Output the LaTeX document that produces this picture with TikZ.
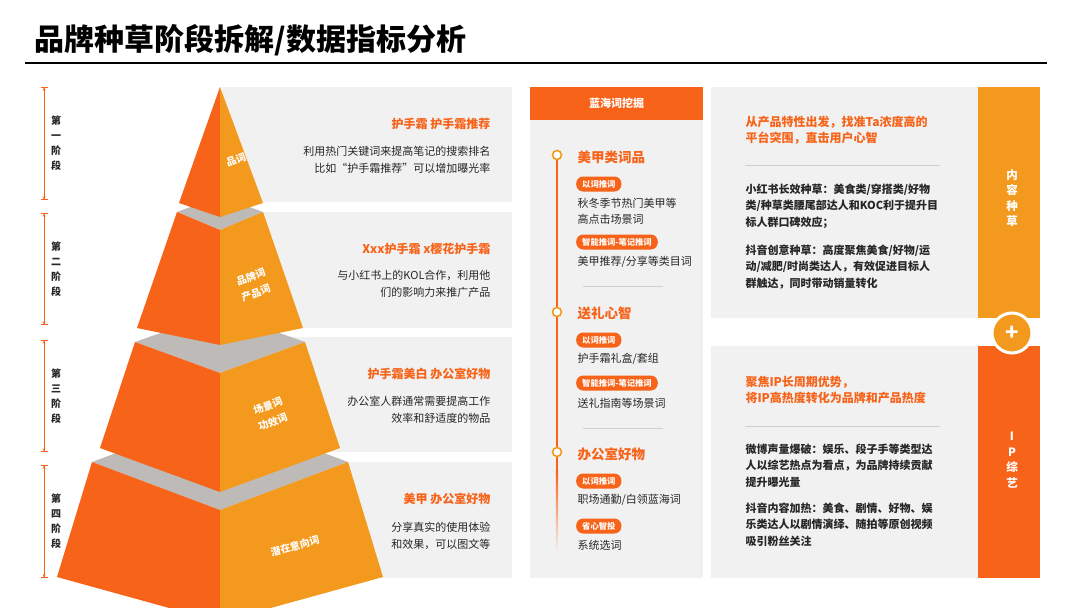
\documentclass[tikz,border=0pt]{standalone}
\usepackage{fontspec}
\setmainfont{Noto Sans CJK SC}
\usetikzlibrary{positioning,arrows.meta}
\definecolor{dorange}{HTML}{F76319}
\definecolor{lorange}{HTML}{F39A1E}
\definecolor{panel}{HTML}{F1F1F1}
\definecolor{band}{HTML}{BDBAB7}
\definecolor{ink}{HTML}{262626}

\begin{document}
\begin{tikzpicture}[x=1pt, y=-1pt,
  panelbox/.style={fill=panel, draw=none},
  ptitle/.style={text=dorange, font=\bfseries\fontsize{12}{14}\selectfont, anchor=east, align=right},
  pbody/.style={text=ink, font=\fontsize{11}{16.5}\selectfont, anchor=east, align=right},
  stage/.style={text=ink, font=\bfseries\fontsize{10}{15}\selectfont, align=center},
  facelab/.style={text=white, font=\bfseries\fontsize{10}{12}\selectfont, inner sep=0pt},
  mtitle/.style={text=dorange, font=\bfseries\fontsize{13.5}{15}\selectfont, anchor=west},
  badge/.style={fill=dorange, text=white, rounded corners=7pt, inner xsep=6pt, minimum height=15pt, inner ysep=0pt, font=\bfseries\fontsize{8.3}{9}\selectfont, anchor=west},
  mbody/.style={text=ink, font=\fontsize{11}{16}\selectfont, anchor=west, align=left},
  rtitle/.style={text=dorange, font=\bfseries\fontsize{12}{15.5}\selectfont, anchor=north west, align=left},
  rbody/.style={text=ink, font=\bfseries\fontsize{11}{16.8}\selectfont, anchor=north west, align=left},
  vlab/.style={text=white, font=\bfseries\fontsize{11.5}{15.5}\selectfont, align=center},
  dot/.style={circle, draw=lorange, line width=1.6pt, fill=white, inner sep=0pt, minimum size=9pt},
  brk/.style={dorange, line width=0.8pt, {Bar[width=7pt]Stealth[length=3pt,width=3pt]}-{Stealth[length=3pt,width=3pt]Bar[width=7pt]}}]
  \useasboundingbox (0,0) rectangle (1080,608);
  \fill[white] (0,0) rectangle (1080,608);

  % title
  \node (title) [anchor=west, font=\bfseries\fontsize{30}{32}\selectfont] at (31,40) {品牌种草阶段拆解/数据指标分析};
  \coordinate (ruleL) at (25,63);
  \coordinate (ruleR) at (1047,63);
  \draw[line width=1.6pt] (ruleL) -- (ruleR);

  % stage brackets
  \foreach \t/\b/\n [count=\i] in {87/200/一, 213/325/二, 340/452/三, 465/578/四} {
    \coordinate (s\i t) at (44,\t);
    \coordinate (s\i b) at (44,\b);
    \draw[brk] (s\i t) -- (s\i b);
    \node (stage\i) [stage] at (56,{(\t+\b)/2}) {第\\\n\\阶\\段};
  }

  % left panels
  \fill[panelbox] (222,87) rectangle (512,202);
  \fill[panelbox] (222,212) rectangle (512,328);
  \fill[panelbox] (222,337) rectangle (512,452);
  \fill[panelbox] (222,462) rectangle (512,578);

  % pyramid (bottom layer first)
  \foreach \th/\ts/\tf/\tb/\bh/\bs/\bc in {128/462/510/414/163/577/622, 85/342/373/312/120/448/492, 43/212/230/196/83/328/345} {
    \fill[band] (220-\th,\ts) -- (220,\tb) -- (220+\th,\ts) -- (220,\tf) -- cycle;
    \fill[dorange] (220-\th,\ts) -- (220,\tf) -- (220,\bc) -- (220-\bh,\bs) -- cycle;
    \fill[lorange] (220+\th,\ts) -- (220,\tf) -- (220,\bc) -- (220+\bh,\bs) -- cycle;
  }
  \fill[dorange] (220,87) -- (220,217) -- (179,203) -- cycle;
  \fill[lorange] (220,87) -- (220,217) -- (263,203) -- cycle;

  \node (lab1) [facelab, rotate=20] at (236,160) {品词};
  \node (lab2a) [facelab, rotate=20] at (251,277) {品牌词};
  \node (lab2b) [facelab, rotate=20] at (256,293) {产品词};
  \node (lab3a) [facelab, rotate=20] at (268,406) {场景词};
  \node (lab3b) [facelab, rotate=20] at (273,422) {功效词};
  \node (lab4) [facelab, rotate=15] at (295,546) {潜在意向词};

  % panel texts
  \node (t1) [ptitle] at (494,124) {护手霜 护手霜推荐};
  \node (b1) [pbody] at (494,160) {利用热门关键词来提高笔记的搜索排名\\比如“护手霜推荐”可以增加曝光率};
  \node (t2) [ptitle] at (494,249) {Xxx护手霜 x樱花护手霜};
  \node (b2) [pbody] at (494,284) {与小红书上的KOL合作，利用他\\们的影响力来推广产品};
  \node (t3) [ptitle] at (494,374) {护手霜美白 办公室好物};
  \node (b3) [pbody] at (494,410) {办公室人群通常需要提高工作\\效率和舒适度的物品};
  \node (t4) [ptitle] at (494,499) {美甲 办公室好物};
  \node (b4) [pbody] at (494,536) {分享真实的使用体验\\和效果，可以图文等};

  % middle column
  \fill[panelbox] (530,87) rectangle (703,578);
  \fill[dorange] (530,87) rectangle (703,120);
  \node (mhead) [text=white, font=\bfseries\fontsize{11}{12}\selectfont] at (616.5,103) {蓝海词挖掘};
  \fill[dorange] (555.8,155) rectangle (558.2,470);
  \shade[top color=dorange, bottom color=panel] (555.8,470) rectangle (558.2,552);
  \node (d1) [dot] at (557,155) {};
  \node (d2) [dot] at (557,312) {};
  \node (d3) [dot] at (557,452) {};

  \node (m1) [mtitle] at (574,157) {美甲类词品};
  \node (m1a) [badge] at (576,184) {以词推词};
  \node (m1b) [mbody] at (574,211) {秋冬季节热门美甲等\\高点击场景词};
  \node (m1c) [badge] at (576,242) {智能推词-笔记推词};
  \node (m1d) [mbody] at (574,262) {美甲推荐/分享等类目词};
  \draw[band!70, line width=0.6pt] (583,286) -- (663,286);

  \node (m2) [mtitle] at (574,313) {送礼心智};
  \node (m2a) [badge] at (576,340) {以词推词};
  \node (m2b) [mbody] at (574,359) {护手霜礼盒/套组};
  \node (m2c) [badge] at (576,383) {智能推词-笔记推词};
  \node (m2d) [mbody] at (574,403) {送礼指南等场景词};
  \draw[band!70, line width=0.6pt] (583,428) -- (663,428);

  \node (m3) [mtitle] at (574,454) {办公室好物};
  \node (m3a) [badge] at (576,481) {以词推词};
  \node (m3b) [mbody] at (574,500) {职场通勤/白领蓝海词};
  \node (m3c) [badge] at (576,526) {省心智投};
  \node (m3d) [mbody] at (574,545) {系统选词};

  % right panels
  \fill[panelbox] (711,87) rectangle (978,318);
  \fill[panelbox] (711,346) rectangle (978,578);
  \fill[lorange] (978,87) rectangle (1040,318);
  \fill[dorange] (978,346) rectangle (1040,578);
  \node (plus) [circle, fill=lorange, draw=white, line width=3pt, minimum size=40pt, inner sep=0pt, text=white, font=\bfseries\fontsize{22}{22}\selectfont] at (1012,333) {+};

  \node (v1) [vlab] at (1012,198) {内\\容\\种\\草};
  \node (v2) [vlab] at (1012,460) {I\\P\\综\\艺};

  \node (r1) [rtitle] at (742,113) {从产品特性出发，找准Ta浓度高的\\平台突围，直击用户心智};
  \draw[band!70, line width=0.6pt] (745,165) -- (940,165);
  \node (r1a) [rbody] at (742,180) {小红书长效种草：美食类/穿搭类/好物\\类/种草类腰尾部达人和KOC利于提升目\\标人群口碑效应；};
  \node (r1b) [rbody] at (742,241) {抖音创意种草：高度聚焦美食/好物/运\\动/减肥/时尚类达人，有效促进目标人\\群触达，同时带动销量转化};

  \node (r2) [rtitle] at (742,373) {聚焦IP长周期优势，\\将IP高热度转化为品牌和产品热度};
  \draw[band!70, line width=0.6pt] (745,426) -- (940,426);
  \node (r2a) [rbody] at (742,440) {微博声量爆破：娱乐、段子手等类型达\\人以综艺热点为看点，为品牌持续贡献\\提升曝光量};
  \node (r2b) [rbody] at (742,499) {抖音内容加热：美食、剧情、好物、娱\\乐类达人以剧情演绎、随拍等原创视频\\吸引粉丝关注};
\end{tikzpicture}
\end{document}
